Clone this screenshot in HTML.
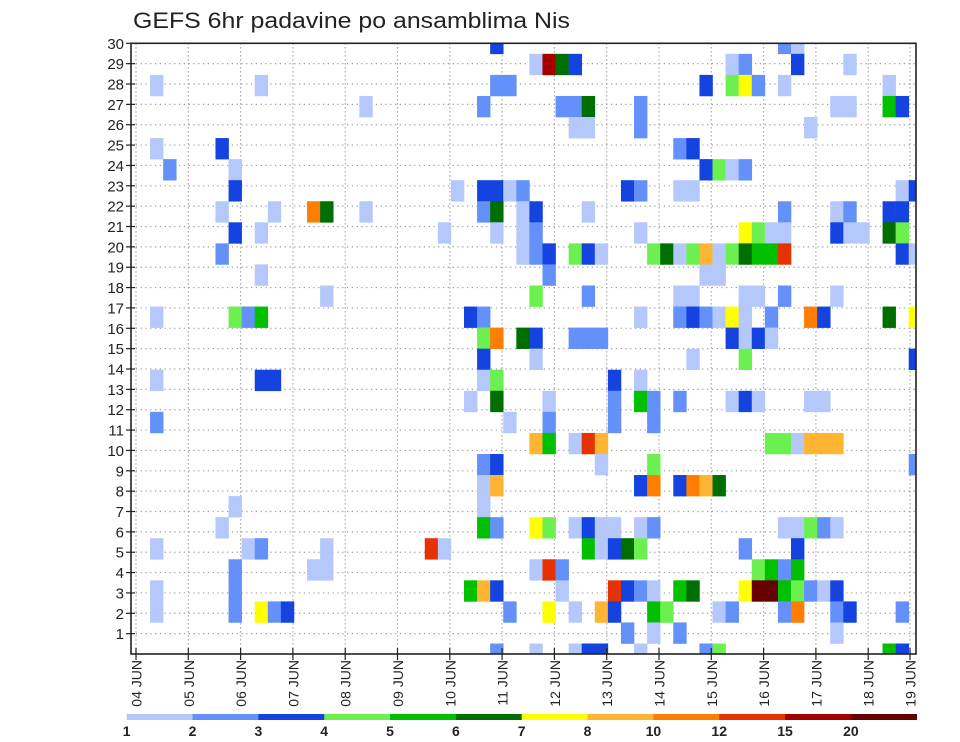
<!DOCTYPE html>
<html><head><meta charset="utf-8"><style>
html,body{margin:0;padding:0;background:#fff;}
svg{display:block;font-family:"Liberation Sans",sans-serif;}
</style></head><body>
<svg id="chart" width="960" height="742" viewBox="0 0 960 742" xmlns="http://www.w3.org/2000/svg">
<rect width="960" height="742" fill="#fff"/>
<text x="133" y="28" font-size="22" textLength="437" lengthAdjust="spacingAndGlyphs" fill="#222">GEFS 6hr padavine po ansamblima Nis</text>
<defs><clipPath id="plotclip"><rect x="131" y="43.3" width="785" height="610.7"/></clipPath></defs>
<g id="grid"></g>
<g id="cells" clip-path="url(#plotclip)"></g>
<rect x="131" y="43.3" width="785" height="610.7" fill="none" stroke="#222" stroke-width="1.6"/>
<g id="yaxis"></g>
<g id="xaxis"></g>
<g id="legend"></g>
</svg>
<script>
// precipitation level colors & legend labels
const levelColors = ["#b4c8fc","#6490fa","#1443e0","#6cf050","#00c000","#006e00","#ffff00","#ffb432","#ff7d00","#e63200","#a50000","#640000"];
const legendLabels = ["1","2","3","4","5","6","7","8","10","12","15","20"];
const dayLabels = ["04","05","06","07","08","09","10","11","12","13","14","15","16","17","18","19"];
const yTickLabels = [1,2,3,4,5,6,7,8,9,10,11,12,13,14,15,16,17,18,19,20,21,22,23,24,25,26,27,28,29,30];
// cells: [time step (6h index), member row (0 = top), level index]
const precipCells = [
[27,0,2],[49,0,1],[50,0,0],
[30,1,0],[31,1,10],[32,1,5],[33,1,2],[45,1,0],[46,1,1],[50,1,2],[54,1,0],
[1,2,0],[9,2,0],[27,2,1],[28,2,1],[43,2,2],[45,2,3],[46,2,6],[47,2,1],[49,2,0],[57,2,0],
[17,3,0],[26,3,1],[32,3,1],[33,3,1],[34,3,5],[38,3,1],[53,3,0],[54,3,0],[57,3,4],[58,3,2],
[33,4,0],[34,4,0],[38,4,1],[51,4,0],
[1,5,0],[6,5,2],[41,5,1],[42,5,2],
[2,6,1],[7,6,0],[43,6,2],[44,6,3],[45,6,0],[46,6,1],
[7,7,2],[24,7,0],[26,7,2],[27,7,2],[28,7,0],[29,7,1],[37,7,2],[38,7,1],[41,7,0],[42,7,0],[58,7,0],[59,7,2],
[6,8,0],[10,8,0],[13,8,8],[14,8,5],[17,8,0],[26,8,1],[27,8,5],[29,8,0],[30,8,2],[34,8,0],[49,8,1],[53,8,0],[54,8,1],[57,8,2],[58,8,2],
[7,9,2],[9,9,0],[23,9,0],[27,9,0],[29,9,0],[30,9,1],[38,9,0],[46,9,6],[47,9,3],[48,9,0],[49,9,0],[53,9,2],[54,9,0],[55,9,0],[57,9,5],[58,9,3],
[6,10,1],[29,10,0],[30,10,1],[31,10,2],[33,10,3],[34,10,2],[35,10,0],[39,10,3],[40,10,5],[41,10,0],[42,10,3],[43,10,7],[44,10,0],[45,10,3],[46,10,5],[47,10,4],[48,10,4],[49,10,9],[58,10,2],[59,10,0],
[9,11,0],[31,11,1],[43,11,0],[44,11,0],
[14,12,0],[30,12,3],[34,12,1],[41,12,0],[42,12,0],[46,12,0],[47,12,0],[49,12,1],[53,12,0],
[1,13,0],[7,13,3],[8,13,1],[9,13,4],[25,13,2],[26,13,1],[38,13,0],[41,13,1],[42,13,2],[43,13,1],[44,13,0],[45,13,6],[46,13,0],[48,13,1],[51,13,8],[52,13,2],[57,13,5],[59,13,6],
[26,14,3],[27,14,8],[29,14,5],[30,14,2],[33,14,1],[34,14,1],[35,14,1],[45,14,2],[46,14,0],[47,14,2],[48,14,0],
[26,15,2],[30,15,0],[42,15,0],[46,15,3],[59,15,2],
[1,16,0],[9,16,2],[10,16,2],[26,16,0],[27,16,3],[36,16,2],[38,16,0],
[25,17,0],[27,17,5],[31,17,0],[36,17,1],[38,17,4],[39,17,1],[41,17,1],[45,17,0],[46,17,2],[47,17,0],[51,17,0],[52,17,0],
[1,18,1],[28,18,0],[31,18,1],[36,18,1],[39,18,1],
[30,19,7],[31,19,4],[33,19,0],[34,19,9],[35,19,7],[48,19,3],[49,19,3],[50,19,0],[51,19,7],[52,19,7],[53,19,7],
[26,20,1],[27,20,2],[35,20,0],[39,20,3],[59,20,1],
[26,21,0],[27,21,7],[38,21,2],[39,21,8],[41,21,2],[42,21,8],[43,21,7],[44,21,5],
[7,22,0],[26,22,0],
[6,23,0],[26,23,4],[27,23,1],[30,23,6],[31,23,3],[33,23,0],[34,23,2],[35,23,0],[36,23,0],[38,23,0],[39,23,1],[49,23,0],[50,23,0],[51,23,3],[52,23,1],[53,23,0],
[1,24,0],[8,24,0],[9,24,1],[14,24,0],[22,24,9],[23,24,0],[34,24,4],[35,24,0],[36,24,2],[37,24,5],[38,24,3],[46,24,1],[50,24,2],
[7,25,1],[13,25,0],[14,25,0],[30,25,0],[31,25,9],[32,25,1],[47,25,3],[48,25,4],[49,25,1],[50,25,4],
[1,26,0],[7,26,1],[25,26,4],[26,26,7],[27,26,2],[32,26,0],[36,26,9],[37,26,2],[38,26,1],[39,26,0],[41,26,4],[42,26,5],[46,26,6],[47,26,11],[48,26,11],[49,26,4],[50,26,3],[51,26,1],[52,26,0],[53,26,2],
[1,27,0],[7,27,1],[9,27,6],[10,27,1],[11,27,2],[28,27,1],[31,27,6],[33,27,0],[35,27,7],[36,27,2],[39,27,4],[40,27,3],[44,27,0],[45,27,1],[49,27,1],[50,27,8],[53,27,1],[54,27,2],[58,27,1],
[37,28,1],[39,28,0],[41,28,1],[53,28,0],
[27,29,1],[30,29,0],[33,29,0],[34,29,2],[35,29,2],[38,29,0],[43,29,1],[44,29,3],[57,29,4],[58,29,2]
];

const NS="http://www.w3.org/2000/svg";
const plotL=131, plotR=916, plotT=43.3, plotB=654;
const stepW=13.08, rowH=21.06;
function xStep(s){return 137+s*stepW;}
function yRow(r){return plotT+r*rowH;}
function yVal(v){return plotB-v*(plotB-plotT)/30;}
function xDay(i){return i<15?136+i*52.3:910;}
function mk(tag,attrs,parent){const e=document.createElementNS(NS,tag);for(const k in attrs)e.setAttribute(k,attrs[k]);parent.appendChild(e);return e;}

const grid=document.getElementById('grid');
for(let v=1;v<30;v++){
  const l=mk('line',{x1:plotL,x2:plotR,y1:yVal(v),y2:yVal(v),stroke:'#999','stroke-width':1.2,'stroke-dasharray':'1.2 3.6'},grid);
  
  
}
for(let i=0;i<dayLabels.length;i++){
  const x=xDay(i);
  const l=mk('line',{x1:x,x2:x,y1:plotT,y2:plotB,stroke:'#999','stroke-width':1.2,'stroke-dasharray':'1.2 2.8'},grid);
  
  
}

const cells=document.getElementById('cells');
precipCells.forEach(c=>{
  const r=mk('rect',{x:xStep(c[0]),y:yRow(c[1])-rowH/2,width:stepW+0.3,height:rowH+0.3,fill:levelColors[c[2]]},cells);
  
  
});

const ya=document.getElementById('yaxis');
yTickLabels.forEach(v=>{
  const y=yVal(v);
  const t=mk('line',{x1:126,x2:135,y1:y,y2:y,stroke:'#222','stroke-width':1.2},ya);
  
  
  const tx=mk('text',{x:124,y:y+5.5,'font-size':15,'text-anchor':'end',fill:'#222'},ya);
  tx.textContent=v;
  
  
});

const xa=document.getElementById('xaxis');
dayLabels.forEach((d,i)=>{
  const x=xDay(i);
  const t=mk('line',{x1:x,x2:x,y1:plotB-6,y2:plotB+6,stroke:'#222','stroke-width':1.2},xa);
  
  
  const tx=mk('text',{x:0,y:0,'font-size':14,'text-anchor':'end',fill:'#222',transform:`translate(${x+5.5},${660}) rotate(-90)`},xa);
  tx.textContent=d+'  JUN';
  
  
});

const lg=document.getElementById('legend');
const lgL=126.7, lgW=(916.7-126.7)/levelColors.length;
levelColors.forEach((c,i)=>{
  const r=mk('rect',{x:lgL+i*lgW,y:714,width:lgW+0.3,height:6,fill:c},lg);
  
  
});
legendLabels.forEach((s,i)=>{
  const t=mk('text',{x:lgL+i*lgW,y:736,'font-size':14,'font-weight':'bold','text-anchor':'middle',fill:'#222'},lg);
  t.textContent=s;
  
  
});
</script>
</body></html>
